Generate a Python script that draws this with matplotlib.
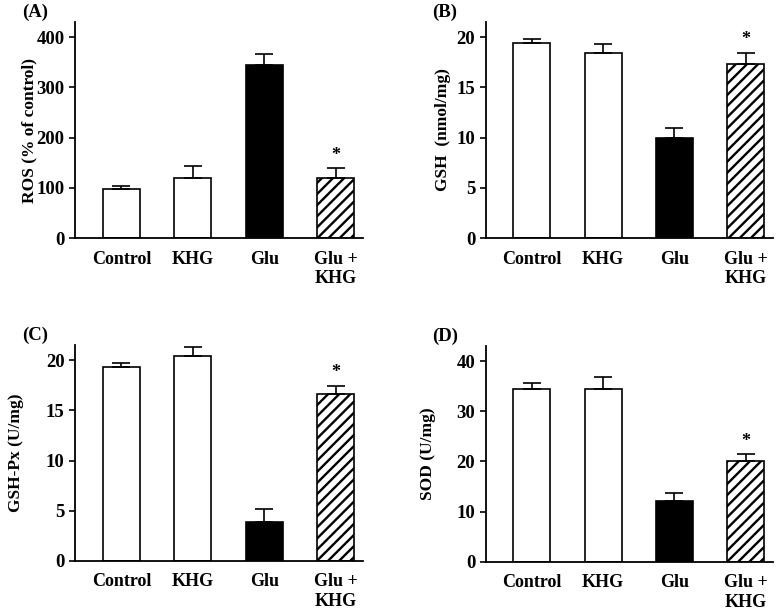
import numpy as np
import matplotlib.pyplot as plt

plt.rcParams['font.family'] = ['Liberation Serif', 'DejaVu Serif']
plt.rcParams['font.weight'] = 'bold'
plt.rcParams['hatch.linewidth'] = 1.7

groups = ['Control', 'KHG', 'Glu', 'Glu +\nKHG']

ros = [97, 120, 344, 120]
ros_err = [6, 23, 22, 19]
gsh = [19.45, 18.4, 9.95, 17.35]
gsh_err = [0.4, 0.95, 0.95, 1.1]
gpx = [19.35, 20.37, 3.86, 16.58]
gpx_err = [0.32, 0.9, 1.35, 0.87]
sod = [34.5, 34.5, 12.1, 20.05]
sod_err = [1.2, 2.4, 1.65, 1.4]

# tag, ylabel, values, errors, ymax, tick step, axes rect, ylabel x (axes coords)
panels = [
    ('(A)', 'ROS (% of control)', ros, ros_err, 430, 100, [0.0958, 0.6136, 0.3674, 0.3507], -0.16),
    ('(B)', 'GSH  (nmol/mg)', gsh, gsh_err, 21.5, 5, [0.6203, 0.6136, 0.3665, 0.3507], -0.149),
    ('(C)', 'GSH-Px (U/mg)', gpx, gpx_err, 21.5, 5, [0.0958, 0.0893, 0.3674, 0.3507], -0.205),
    ('(D)', 'SOD (U/mg)', sod, sod_err, 43, 10, [0.6203, 0.0882, 0.3665, 0.3501], -0.201),
]

fig = plt.figure(figsize=(7.83, 6.16), dpi=100)
x = np.arange(len(groups))
faces = ['white', 'white', 'black', 'white']
hatches = ['', '', '', '///']

for tag, ylabel, vals, errs, ymax, step, pos, labx in panels:
    ax = fig.add_axes(pos)
    lower = np.zeros(len(vals))
    ax.bar(x, vals, width=0.52, color=faces, edgecolor='black', linewidth=1.2,
           hatch=hatches, yerr=[lower, errs],
           error_kw=dict(ecolor='black', elinewidth=1.2, capsize=6.5, capthick=1.2))
    ax.annotate('*', xy=(x[3], vals[3] + errs[3]), xytext=(0, 3),
                textcoords='offset points', ha='center', va='bottom', fontsize=13)
    ax.set_xlim(-0.65, 3.38)
    ax.set_ylim(0, ymax)
    ax.set_yticks(np.arange(0, ymax, step))
    ax.set_xticks(x)
    ax.set_xticklabels(groups, fontsize=13, fontweight='bold')
    ax.tick_params(axis='x', length=0, pad=9)
    ax.tick_params(axis='y', labelsize=13.5, direction='out', length=4, width=1.2)
    ax.set_ylabel(ylabel, fontsize=12.5, fontweight='bold', va='center')
    ax.yaxis.set_label_coords(labx, 0.5)
    ax.spines['top'].set_visible(False)
    ax.spines['right'].set_visible(False)
    ax.spines['left'].set_linewidth(1.3)
    ax.spines['bottom'].set_linewidth(1.3)
    fig.text(pos[0] - 0.068, pos[1] + pos[3] + 0.015, tag, fontsize=13.5,
             fontweight='bold', va='center')

fig.savefig('out.png', dpi=100)
